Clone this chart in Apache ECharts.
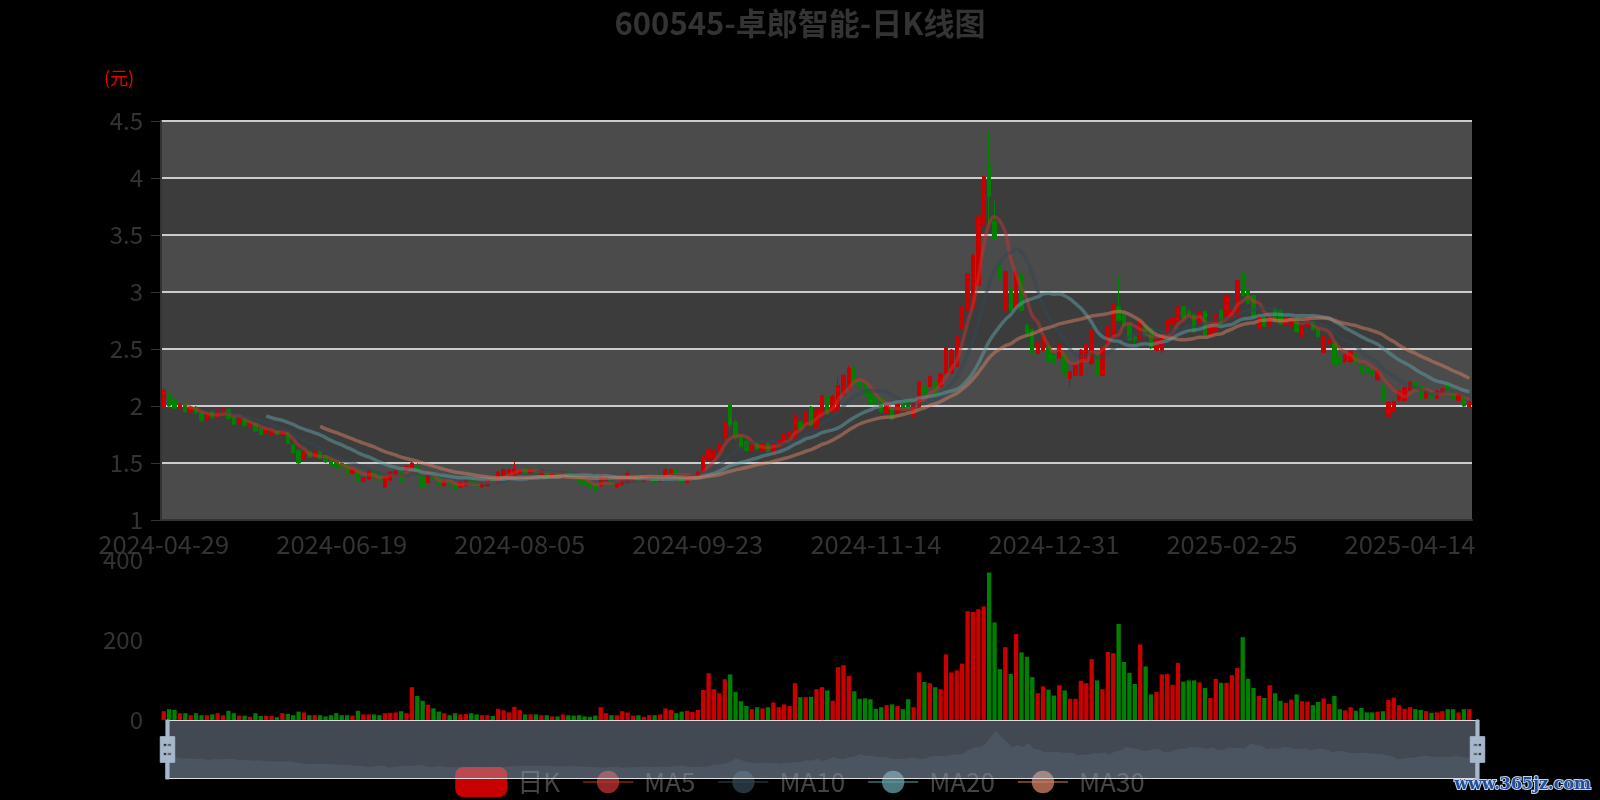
<!DOCTYPE html>
<html><head><meta charset="utf-8">
<script src="https://cdn.jsdelivr.net/npm/echarts@6/dist/echarts.min.js"></script>
<style>html,body{margin:0;padding:0;background:#000;}#c{width:1600px;height:800px;}</style>
</head><body><div id="c"></div>
<script>
// trading days per month
const tradingDays = {
  '2024-04': [29,30],
  '2024-05': [6,7,8,9,10,13,14,15,16,17,20,21,22,23,24,27,28,29,30,31],
  '2024-06': [3,4,5,6,7,11,12,13,14,17,18,19,20,21,24,25,26,27,28],
  '2024-07': [1,2,3,4,5,8,9,10,11,12,15,16,17,18,19,22,23,24,25,26,29,30,31],
  '2024-08': [1,2,5,6,7,8,9,12,13,14,15,16,19,20,21,22,23,26,27,28,29,30],
  '2024-09': [2,3,4,5,6,9,10,11,12,13,18,19,20,23,24,25,26,27,30],
  '2024-10': [8,9,10,11,14,15,16,17,18,21,22,23,24,25,28,29,30,31],
  '2024-11': [1,4,5,6,7,8,11,12,13,14,15,18,19,20,21,22,25,26,27,28,29],
  '2024-12': [2,3,4,5,6,9,10,11,12,13,16,17,18,19,20,23,24,25,26,27,30,31],
  '2025-01': [2,3,6,7,8,9,10,13,14,15,16,17,20,21,22,23,24,27],
  '2025-02': [5,6,7,10,11,12,13,14,17,18,19,20,21,24,25,26,27,28],
  '2025-03': [3,4,5,6,7,10,11,12,13,14,17,18,19,20,21,24,25,26,27,28,31],
  '2025-04': [1,2,3,7,8,9,10,11,14,15,16,17,18,21,22,23,24,25,28,29]
};
const opens = [
1.99,2.10,2.05,1.98,2.02,1.95,1.99,1.94,1.88,1.95,
1.91,1.93,1.97,1.90,1.85,1.88,1.82,1.85,1.80,1.76,
1.75,1.78,1.75,1.77,1.66,1.61,1.53,1.60,1.55,1.60,
1.56,1.54,1.51,1.50,1.48,1.41,1.43,1.34,1.36,1.44,
1.41,1.29,1.35,1.39,1.42,1.44,1.45,1.47,1.39,1.33,
1.40,1.38,1.30,1.33,1.32,1.29,1.30,1.36,1.33,1.29,
1.30,1.36,1.33,1.39,1.40,1.40,1.41,1.45,1.41,1.44,
1.40,1.43,1.37,1.42,1.38,1.42,1.39,1.37,1.34,1.33,
1.31,1.30,1.34,1.35,1.29,1.31,1.33,1.35,1.38,1.34,
1.35,1.38,1.34,1.37,1.40,1.44,1.38,1.33,1.36,1.37,
1.39,1.53,1.54,1.60,1.72,2.02,1.86,1.73,1.69,1.61,
1.68,1.61,1.67,1.58,1.65,1.67,1.72,1.72,1.86,1.83,
1.99,1.80,1.91,2.09,1.95,1.95,2.10,2.15,2.33,2.21,
2.20,2.12,2.08,2.07,1.94,1.98,1.94,2.04,2.05,1.91,
1.99,2.17,2.17,2.21,2.17,2.29,2.29,2.35,2.68,2.84,
2.86,3.06,3.59,4.11,3.62,3.25,2.84,3.02,2.87,3.16,
2.71,2.67,2.46,2.49,2.52,2.45,2.42,2.45,2.24,2.27,
2.27,2.40,2.37,2.45,2.27,2.55,2.61,2.87,2.80,2.72,
2.61,2.58,2.70,2.68,2.49,2.49,2.65,2.72,2.75,2.87,
2.83,2.80,2.72,2.83,2.62,2.65,2.84,2.78,2.77,2.78,
3.16,3.02,2.97,2.68,2.78,2.70,2.85,2.84,2.71,2.70,
2.77,2.61,2.70,2.74,2.67,2.47,2.55,2.55,2.43,2.39,
2.39,2.45,2.35,2.34,2.32,2.23,2.18,1.91,1.95,2.05,
2.05,2.14,2.21,2.17,2.07,2.12,2.07,2.11,2.20,2.11,
2.05,2.07,1.99];
const closes = [
2.14,2.00,1.98,2.01,1.95,1.99,1.94,1.87,1.93,1.90,
1.97,1.98,1.89,1.84,1.89,1.83,1.85,1.78,1.75,1.80,
1.78,1.75,1.77,1.67,1.59,1.50,1.60,1.55,1.60,1.54,
1.51,1.48,1.46,1.47,1.41,1.44,1.34,1.37,1.43,1.38,
1.34,1.38,1.42,1.43,1.34,1.47,1.50,1.39,1.29,1.40,
1.36,1.31,1.34,1.31,1.27,1.33,1.35,1.33,1.30,1.33,
1.35,1.33,1.42,1.44,1.44,1.44,1.44,1.41,1.44,1.41,
1.44,1.37,1.41,1.39,1.42,1.39,1.37,1.33,1.31,1.28,
1.26,1.40,1.37,1.31,1.32,1.38,1.41,1.38,1.35,1.38,
1.38,1.33,1.37,1.44,1.44,1.40,1.33,1.38,1.38,1.42,
1.56,1.61,1.61,1.67,1.85,1.83,1.72,1.64,1.61,1.67,
1.62,1.67,1.60,1.67,1.70,1.76,1.77,1.91,1.80,1.95,
1.83,1.96,2.09,1.93,2.08,2.18,2.27,2.33,2.20,2.17,
2.10,2.02,2.02,1.95,2.02,1.88,2.02,1.98,1.98,2.02,
2.21,2.10,2.26,2.10,2.28,2.51,2.49,2.61,2.87,3.16,
3.32,3.66,4.01,3.84,3.47,3.12,3.18,2.84,3.18,2.84,
2.64,2.46,2.56,2.61,2.39,2.37,2.54,2.29,2.30,2.36,
2.49,2.54,2.67,2.27,2.51,2.70,2.89,2.75,2.70,2.58,
2.58,2.75,2.62,2.51,2.58,2.61,2.75,2.77,2.87,2.77,
2.80,2.65,2.83,2.62,2.71,2.80,2.72,2.97,2.84,3.10,
2.97,2.90,2.78,2.78,2.70,2.77,2.75,2.72,2.77,2.78,
2.65,2.71,2.77,2.67,2.61,2.61,2.58,2.36,2.37,2.45,
2.48,2.37,2.29,2.30,2.27,2.31,2.05,2.03,2.04,2.13,
2.16,2.21,2.14,2.07,2.13,2.07,2.13,2.15,2.11,2.06,
2.10,2.00,2.04];
const lows = [
1.98,1.98,1.97,1.97,1.94,1.94,1.93,1.86,1.87,1.89,
1.90,1.92,1.88,1.83,1.84,1.82,1.81,1.77,1.74,1.75,
1.74,1.74,1.74,1.66,1.58,1.49,1.52,1.54,1.54,1.53,
1.50,1.47,1.44,1.46,1.40,1.40,1.31,1.33,1.35,1.37,
1.33,1.28,1.34,1.38,1.33,1.43,1.44,1.37,1.28,1.32,
1.35,1.30,1.29,1.30,1.26,1.28,1.29,1.32,1.29,1.28,
1.29,1.32,1.32,1.38,1.39,1.39,1.40,1.40,1.40,1.40,
1.39,1.36,1.36,1.38,1.37,1.38,1.36,1.32,1.30,1.27,
1.25,1.29,1.33,1.30,1.28,1.30,1.32,1.34,1.34,1.33,
1.34,1.32,1.33,1.36,1.39,1.39,1.32,1.32,1.35,1.36,
1.38,1.52,1.53,1.59,1.71,1.80,1.70,1.63,1.60,1.60,
1.61,1.60,1.59,1.57,1.64,1.66,1.71,1.71,1.79,1.82,
1.82,1.79,1.90,1.92,1.94,1.94,2.09,2.14,2.19,2.16,
2.09,2.01,2.01,1.94,1.93,1.87,1.93,1.97,1.97,1.90,
1.98,2.09,2.16,2.09,2.16,2.28,2.28,2.34,2.67,2.83,
2.85,3.05,3.58,3.60,3.46,3.10,2.83,2.83,2.86,2.83,
2.60,2.45,2.45,2.48,2.38,2.36,2.41,2.26,2.17,2.26,
2.26,2.39,2.36,2.26,2.26,2.54,2.60,2.74,2.69,2.57,
2.52,2.57,2.60,2.50,2.48,2.46,2.64,2.71,2.74,2.76,
2.79,2.64,2.71,2.61,2.61,2.64,2.71,2.77,2.76,2.77,
2.96,2.89,2.77,2.67,2.69,2.69,2.74,2.71,2.70,2.69,
2.64,2.60,2.69,2.66,2.60,2.46,2.54,2.35,2.36,2.38,
2.38,2.36,2.28,2.29,2.26,2.22,2.04,1.90,1.77,2.04,
2.04,2.13,2.13,2.06,2.06,2.06,2.06,2.10,2.10,2.05,
2.04,1.99,1.98];
const highs = [
2.16,2.12,2.07,2.03,2.03,2.00,2.00,1.95,1.94,1.96,
1.98,1.99,1.98,1.91,1.90,1.89,1.86,1.86,1.81,1.81,
1.79,1.79,1.78,1.78,1.67,1.62,1.61,1.61,1.61,1.61,
1.57,1.55,1.52,1.52,1.49,1.45,1.44,1.38,1.44,1.45,
1.42,1.39,1.43,1.44,1.43,1.48,1.61,1.50,1.40,1.41,
1.41,1.39,1.35,1.34,1.33,1.34,1.36,1.37,1.34,1.34,
1.36,1.37,1.43,1.45,1.45,1.51,1.45,1.46,1.45,1.45,
1.45,1.44,1.42,1.43,1.43,1.43,1.40,1.38,1.35,1.34,
1.32,1.41,1.38,1.36,1.33,1.39,1.44,1.39,1.39,1.39,
1.39,1.39,1.38,1.46,1.45,1.45,1.39,1.39,1.39,1.43,
1.57,1.63,1.62,1.68,1.86,2.03,1.88,1.75,1.70,1.68,
1.69,1.68,1.68,1.68,1.71,1.77,1.79,1.93,1.87,1.96,
2.00,1.98,2.10,2.10,2.10,2.25,2.28,2.35,2.35,2.23,
2.21,2.13,2.09,2.08,2.03,1.99,2.03,2.05,2.06,2.03,
2.22,2.18,2.27,2.22,2.29,2.52,2.50,2.62,2.88,3.17,
3.34,3.67,4.02,4.41,3.80,3.27,3.19,3.04,3.19,3.17,
2.72,2.68,2.57,2.62,2.53,2.46,2.55,2.46,2.31,2.37,
2.50,2.55,2.68,2.46,2.52,2.72,2.90,3.15,2.81,2.73,
2.62,2.80,2.71,2.69,2.59,2.62,2.76,2.78,2.88,2.88,
2.85,2.81,2.84,2.84,2.72,2.81,2.85,2.98,2.85,3.11,
3.18,3.03,2.98,2.79,2.79,2.78,2.86,2.85,2.78,2.79,
2.78,2.72,2.78,2.75,2.68,2.62,2.59,2.56,2.44,2.46,
2.49,2.46,2.36,2.35,2.33,2.32,2.19,2.04,2.05,2.14,
2.17,2.22,2.22,2.18,2.14,2.13,2.14,2.16,2.21,2.12,
2.11,2.08,2.05];
const volumes = [
22,27,25,17,17,12,17,12,12,14,
17,12,23,17,11,11,8,17,10,11,
10,7,17,15,12,21,19,12,12,12,
9,12,17,12,12,11,23,14,14,14,
12,17,18,19,22,17,82,60,48,38,
29,21,17,12,17,14,15,17,14,12,
12,10,28,24,19,33,25,14,14,14,
12,12,9,9,14,12,11,12,9,8,
11,32,17,12,12,22,19,11,12,8,
12,12,14,29,25,17,21,23,20,25,
75,117,77,67,102,114,70,47,35,27,
32,29,32,44,32,39,35,92,57,57,
58,77,82,74,48,132,137,110,72,53,
54,52,28,32,37,39,35,27,52,32,
119,95,92,82,77,164,119,124,141,272,
270,277,284,369,244,127,182,115,215,169,
158,107,67,84,76,61,87,74,53,53,
98,92,152,99,77,170,167,240,145,118,
90,189,134,64,70,114,115,88,143,96,
99,99,94,80,55,103,93,93,112,130,
207,103,80,60,55,87,67,48,43,51,
64,47,46,37,45,54,40,60,27,24,
32,23,30,19,19,21,22,50,56,37,
28,32,27,25,22,18,19,22,27,27,
19,27,27];
const maPeriods = [5, 10, 20, 30];
const maColors = ['#c23531', '#2f4554', '#61a0a8', '#d48265'];
const upColor = '#c80000';
const downColor = '#008000';

const categories = [];
Object.keys(tradingDays).forEach(m => tradingDays[m].forEach(d => categories.push(m + '-' + String(d).padStart(2, '0'))));
const kData = opens.map((o, i) => [o, closes[i], lows[i], highs[i]]);
function calcMA(n) {
  return closes.map((c, i) => {
    if (i < n - 1) return '-';
    let s = 0; for (let j = i - n + 1; j <= i; j++) s += closes[j];
    return +(s / n).toFixed(3);
  });
}
const volData = volumes.map((v, i) => ({ value: v, itemStyle: { color: closes[i] >= opens[i] ? upColor : downColor } }));

const chart = echarts.init(document.getElementById('c'));
const txt = '#333';
const font = '"Noto Sans CJK SC", "Noto Sans", sans-serif';
chart.setOption({
  backgroundColor: '#000',
  animation: false,
  textStyle: { fontFamily: font },
  title: { text: '600545-卓郎智能-日K线图', left: 'center', top: 3,
    textStyle: { color: '#333', fontSize: 31, fontWeight: 'bold', fontFamily: font } },
  legend: {
    data: ['日K', 'MA5', 'MA10', 'MA20', 'MA30'],
    left: 'center', top: 762, itemWidth: 50, itemHeight: 28, itemGap: 22,
    textStyle: { color: '#444', fontSize: 26, fontFamily: font, padding: [0, 0, 0, 6] }
  },
  graphic: [
    { type: 'text', left: 104, top: 69, style: { text: '(元)', fill: '#e00', fontSize: 18, fontFamily: font } },
    { type: 'text', right: 8, top: 776, style: { text: 'www.365jz.com', fill: '#1f4e9c', stroke: '#c8d2e6', lineWidth: 2, fontSize: 16, fontWeight: 'bold', fontFamily: 'DejaVu Serif' } }
  ],
  grid: [
    { left: 161, right: 128, top: 121, height: 399 },
    { left: 161, right: 128, top: 560, height: 160 }
  ],
  xAxis: [
    { type: 'category', data: categories, gridIndex: 0, boundaryGap: true,
      axisLine: { lineStyle: { color: '#333', width: 2 } },
      axisTick: { interval: 32, length: 8, lineStyle: { color: '#555' } },
      axisLabel: { interval: 32, color: txt, fontSize: 25.5, margin: 12, fontFamily: font },
      splitLine: { show: false } },
    { type: 'category', data: categories, gridIndex: 1, boundaryGap: true,
      axisLine: { show: false }, axisTick: { show: false }, axisLabel: { show: false }, splitLine: { show: false } }
  ],
  yAxis: [
    { type: 'value', gridIndex: 0, min: 1, max: 4.5, interval: 0.5, scale: true,
      axisLine: { show: true, lineStyle: { color: '#333', width: 2 } },
      axisTick: { show: true, length: 10, lineStyle: { color: '#333' } },
      axisLabel: { color: txt, fontSize: 24, margin: 18, fontFamily: font },
      splitLine: { show: true, lineStyle: { color: '#ccc', width: 2 } },
      splitArea: { show: true, areaStyle: { color: ['rgba(250,250,250,0.3)', 'rgba(200,200,200,0.3)'] } } },
    { type: 'value', gridIndex: 1, min: 0, max: 400, interval: 200,
      axisLine: { show: false }, axisTick: { show: false },
      axisLabel: { color: txt, fontSize: 24, margin: 18, fontFamily: font },
      splitLine: { show: false } }
  ],
  dataZoom: [
    { type: 'slider', xAxisIndex: [0, 1], start: 0, end: 100, left: 164, right: 124, top: 720, height: 59,
      backgroundColor: 'rgba(47,69,84,0)', fillerColor: 'rgba(167,183,204,0.4)', borderColor: '#ddd',
      handleIcon: 'M8.2,13.6V3.9H6.3v9.7H3.1v14.9h3.3v9.7h1.8v-9.7h3.3V13.6H8.2z M9.7,24.4H4.8v-1.4h4.9V24.4z M9.7,19.1H4.8v-1.4h4.9V19.1z',
      handleSize: '100%', handleStyle: { color: '#a7b7cc', borderColor: '#a7b7cc' },
      moveHandleSize: 0, brushSelect: false, showDetail: false,
      dataBackground: { lineStyle: { color: '#2f4554', width: 0.5, opacity: 0.3 }, areaStyle: { color: 'rgba(47,69,84,0.3)', opacity: 1 } },
      selectedDataBackground: { lineStyle: { color: '#2f4554', width: 0.5, opacity: 0.3 }, areaStyle: { color: 'rgba(47,69,84,0.3)', opacity: 1 } }
    }
  ],
  series: [
    { name: '日K', type: 'candlestick', xAxisIndex: 0, yAxisIndex: 0, data: kData, barWidth: '72%',
      itemStyle: { color: upColor, color0: downColor, borderColor: upColor, borderColor0: downColor } }
  ].concat(maPeriods.map((p, k) => ({
    name: 'MA' + p, type: 'line', xAxisIndex: 0, yAxisIndex: 0, data: calcMA(p), smooth: true,
    showSymbol: false, symbol: 'circle', color: maColors[k],
    lineStyle: { width: 3.5, opacity: 0.5, color: maColors[k] }, itemStyle: { color: maColors[k], opacity: 0.75 }
  }))).concat([
    { name: 'Volume', type: 'bar', xAxisIndex: 1, yAxisIndex: 1, data: volData, barWidth: '80%' }
  ])
});
</script></body></html>
